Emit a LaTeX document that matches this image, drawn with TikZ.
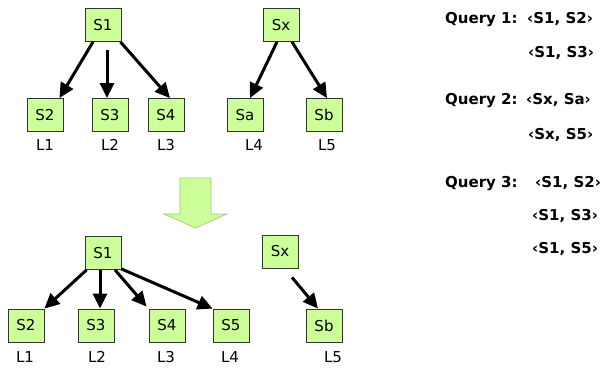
\documentclass[tikz,border=0pt]{standalone}
\usepackage{fontspec}
\setmainfont{DejaVu Sans}
\usetikzlibrary{arrows.meta}
\definecolor{boxgreen}{HTML}{CCFF99}
\definecolor{arrowedge}{HTML}{99CC66}
\tikzset{
  sbox/.style={draw=black!80, line width=0.8pt, fill=boxgreen, minimum width=36pt, minimum height=33pt, inner sep=0pt, font=\fontsize{15}{17}\selectfont},
  lbl/.style={inner sep=0pt, font=\fontsize{15}{17}\selectfont},
  qtxt/.style={inner sep=0pt, anchor=base west, font=\fontsize{15}{17}\selectfont\bfseries},
  conn/.style={line width=3pt, -{Triangle[length=15pt,width=14pt]}}
}
\begin{document}
\begin{tikzpicture}[x=1pt,y=-1pt]
\useasboundingbox (0,0) rectangle (608,367);
% top-left tree
\node[sbox] (s1) at (103,25) {S1};
\node[sbox] (s2) at (45,115) {S2};
\node[sbox] (s3) at (110,115) {S3};
\node[sbox] (s4) at (166,115) {S4};
\node[lbl] (l1) at (45,145) {L1};
\node[lbl] (l2) at (110,145) {L2};
\node[lbl] (l3) at (166,145) {L3};
\draw[conn] ([xshift=-10pt]s1.south) -- ([xshift=-4pt]s2.north east);
\draw[conn] ([xshift=4pt,yshift=-8pt]s1.south) -- ([xshift=-3pt]s3.north);
\draw[conn] ([xshift=-1pt]s1.south east) -- ([xshift=4pt]s4.north);
% top-right tree
\node[sbox] (sx) at (281,25) {Sx};
\node[sbox] (sa) at (245,115) {Sa};
\node[sbox] (sb) at (324,115) {Sb};
\node[lbl] (l4) at (254,145) {L4};
\node[lbl] (l5) at (327,145) {L5};
\draw[conn] ([xshift=-4pt]sx.south) -- ([xshift=5pt]sa.north);
\draw[conn] ([xshift=11pt]sx.south) -- ([xshift=3pt]sb.north);
% big down arrow
\draw[draw=arrowedge, line width=0.6pt, fill=boxgreen]
  (180,178) -- (211,178) -- (211,214) -- (227,214) -- (195.5,228) -- (164,214) -- (180,214) -- cycle;
% bottom-left tree
\node[sbox] (b1) at (103,253) {S1};
\node[sbox] (b2) at (26,325.5) {S2};
\node[sbox] (b3) at (96,325.5) {S3};
\node[sbox] (b4) at (167,325.5) {S4};
\node[sbox] (b5) at (231,325.5) {S5};
\node[lbl] (m1) at (25,357) {L1};
\node[lbl] (m2) at (97,357) {L2};
\node[lbl] (m3) at (166,357) {L3};
\node[lbl] (m4) at (230,357) {L4};
\draw[conn] ([xshift=2pt]b1.south west) -- (b2.north east);
\draw[conn] ([xshift=-3pt]b1.south) -- ([xshift=-3pt]b1.south |- b3.north);
\draw[conn] ([xshift=12pt]b1.south) -- ([xshift=-2pt,yshift=2pt]b4.north west);
\draw[conn] ([yshift=1pt]b1.south east) -- (b5.north west);
% bottom-right tree
\node[sbox] (bx) at (280,251.5) {Sx};
\node[sbox] (bb) at (324,325.5) {Sb};
\node[lbl] (m5) at (333,357) {L5};
\draw[conn] ([xshift=12pt,yshift=-9pt]bx.south) -- ([xshift=-6pt]bb.north);
% queries
\node[qtxt] (q1) at (445,23) {Query 1:};
\node[qtxt] (q1a) at (527,23) {‹S1, S2›};
\node[qtxt] (q1b) at (528,57) {‹S1, S3›};
\node[qtxt] (q2) at (445,104) {Query 2:};
\node[qtxt] (q2a) at (526,104) {‹Sx, Sa›};
\node[qtxt] (q2b) at (528,139) {‹Sx, S5›};
\node[qtxt] (q3) at (445,187) {Query 3:};
\node[qtxt] (q3a) at (535,187) {‹S1, S2›};
\node[qtxt] (q3b) at (532,220) {‹S1, S3›};
\node[qtxt] (q3c) at (532,253) {‹S1, S5›};
\end{tikzpicture}
\end{document}
